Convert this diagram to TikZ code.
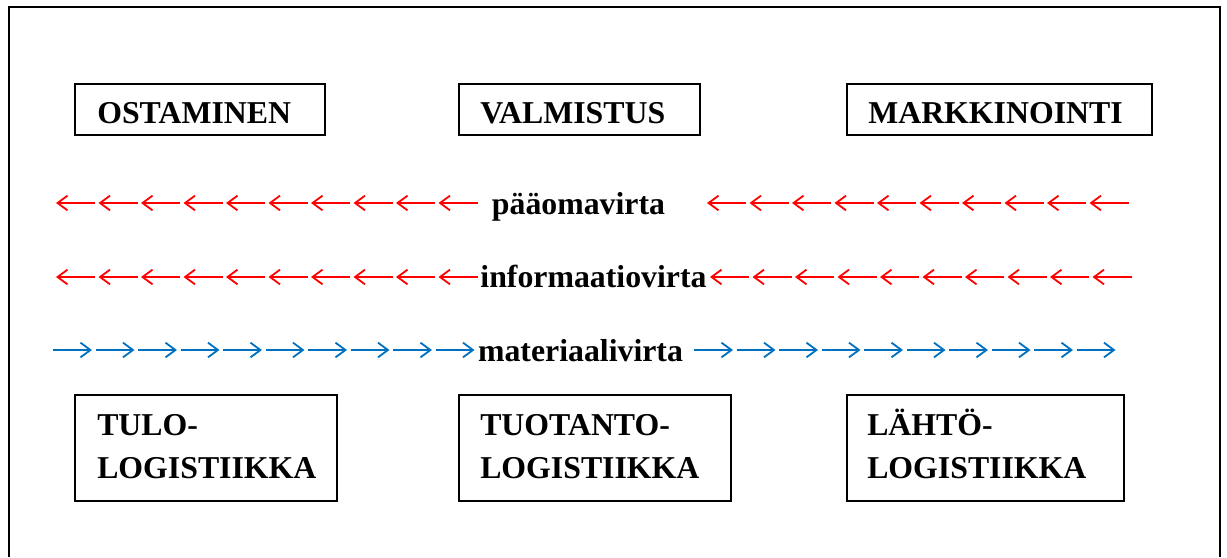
\documentclass[tikz,border=0pt]{standalone}
\usepackage{fontspec}
\setmainfont{Liberation Serif}
\usetikzlibrary{arrows.meta,fit}
\definecolor{flowred}{RGB}{255,0,0}
\definecolor{flowblue}{RGB}{0,112,192}
\begin{document}
\begin{tikzpicture}[x=0.75pt,y=-0.75pt,
  frame/.style={draw, line width=1.5pt},
  box/.style={draw, line width=1.5pt, inner sep=0pt},
  lbl/.style={anchor=base west, inner sep=0pt, align=left,
    font=\fontsize{23.85}{32.25}\selectfont\bfseries},
  flowtext/.style={anchor=base, inner sep=0pt,
    font=\fontsize{23.85}{32.25}\selectfont\bfseries},
  larr/.style={draw=flowred, line width=1.35pt, {Straight Barb[length=7.5pt,width=11pt]}-},
  rarr/.style={draw=flowblue, line width=1.35pt, -{Straight Barb[length=7.5pt,width=11pt]}},
]
\useasboundingbox (0,0) rectangle (1227,557);
% outer frame (open at the bottom)
\draw[frame] (9,557) -- (9,7) -- (1220,7) -- (1220,557);

% top boxes
\node[box, fit={(75,84) (325,135)}] (ostbox) {};
\node[box, fit={(459,84) (700,135)}] (valbox) {};
\node[box, fit={(847,84) (1152,135)}] (marbox) {};
\node[lbl] (ost) at (97,123) {OSTAMINEN};
\node[lbl] (val) at (480,123) {VALMISTUS};
\node[lbl] (mar) at (868,123) {MARKKINOINTI};

% bottom boxes
\node[box, fit={(75,395) (337,501)}] (tulobox) {};
\node[box, fit={(459,395) (731,501)}] (tuobox) {};
\node[box, fit={(847,395) (1124,501)}] (lahbox) {};
\node[lbl] (tulo) at (97,478) {TULO-\\LOGISTIIKKA};
\node[lbl] (tuo) at (480,478) {TUOTANTO-\\LOGISTIIKKA};
\node[lbl] (lah) at (867,478) {LÄHTÖ-\\LOGISTIIKKA};

% flow rows
\node[flowtext] (paa) at (578.5,214) {pääomavirta};
\node[flowtext] (inf) at (593.5,287) {informaatiovirta};
\node[flowtext] (mat) at (580.5,361) {materiaalivirta};

\foreach \i in {0,...,9} {
  \draw[larr] ({56+42.5*\i},203) -- ++(39,0);
  \draw[larr] ({707+42.5*\i},203) -- ++(39,0);
  \draw[larr] ({56+42.5*\i},277) -- ++(39,0);
  \draw[larr] ({710+42.5*\i},277) -- ++(39,0);
  \draw[rarr] ({53+42.5*\i},350) -- ++(39,0);
  \draw[rarr] ({694+42.5*\i},350) -- ++(39,0);
}
\end{tikzpicture}
\end{document}
